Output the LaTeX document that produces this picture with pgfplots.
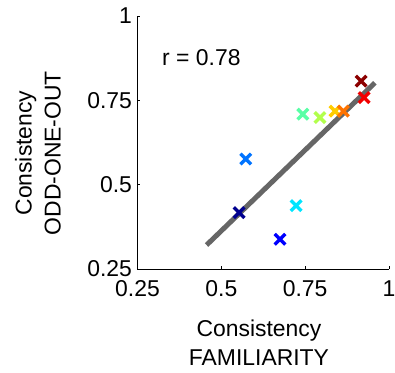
\documentclass[border=0pt]{standalone}
\usepackage{fontspec}
\setmainfont{Liberation Sans}
\usepackage{pgfplots}
\pgfplotsset{compat=1.18}
\definecolor{c1}{rgb}{0,0,0.56}
\definecolor{c2}{rgb}{0,0,1}
\definecolor{c3}{rgb}{0,0.45,1}
\definecolor{c4}{rgb}{0,0.9,1}
\definecolor{c5}{rgb}{0.35,1,0.65}
\definecolor{c6}{rgb}{0.7,1,0.3}
\definecolor{c7}{rgb}{1,0.8,0}
\definecolor{c8}{rgb}{1,0.45,0}
\definecolor{c9}{rgb}{0.95,0,0}
\definecolor{c10}{rgb}{0.55,0,0}
\pgfplotsset{mk/.style={only marks, mark=x, mark size=7.5bp, mark options={line width=3.4bp}}}
\begin{document}
\begin{tikzpicture}
\useasboundingbox (-137.5bp,-104bp) rectangle (257.5bp,269bp);
\begin{axis}[
  scale only axis,
  width=251.5bp, height=253bp,
  xmin=0.25, xmax=1, ymin=0.25, ymax=1,
  axis lines*=left,
  axis line style={line width=0.8pt},
  xtick={0.25,0.5,0.75,1}, ytick={0.25,0.5,0.75,1},
  xticklabels={0.25,0.5,0.75,1}, yticklabels={0.25,0.5,0.75,1},
  tick align=inside, major tick length=3bp,
  tick style={line width=0.6pt, black},
  ticklabel style={font=\fontsize{23}{27}\selectfont},
  xticklabel style={yshift=-8bp},
  yticklabel style={xshift=-2bp},
  every axis x label/.style={at={(axis description cs:0.483,-0.29)}, anchor=center},
  every axis y label/.style={at={(axis description cs:-0.396,0.458)}, anchor=center, rotate=90},
  label style={font=\fontsize{23}{29}\selectfont, align=center},
  xlabel={Consistency\\FAMILIARITY},
  ylabel={Consistency\\ODD-ONE-OUT},
  clip=false,
]
\addplot[line width=5bp, color={rgb,1:red,0.4;green,0.4;blue,0.4}] coordinates {(0.456,0.321) (0.958,0.802)};
\addplot[mk, c1] coordinates {(0.553,0.417)};
\addplot[mk, c2] coordinates {(0.675,0.338)};
\addplot[mk, c3] coordinates {(0.573,0.576)};
\addplot[mk, c4] coordinates {(0.723,0.438)};
\addplot[mk, c5] coordinates {(0.743,0.709)};
\addplot[mk, c6] coordinates {(0.794,0.699)};
\addplot[mk, c7] coordinates {(0.839,0.718)};
\addplot[mk, c8] coordinates {(0.864,0.718)};
\addplot[mk, c9] coordinates {(0.926,0.758)};
\addplot[mk, c10] coordinates {(0.917,0.807)};
\node[anchor=west, font=\fontsize{23}{27}\selectfont, inner sep=0pt] at (axis cs:0.323,0.878) {r = 0.78};
\end{axis}
\end{tikzpicture}
\end{document}
